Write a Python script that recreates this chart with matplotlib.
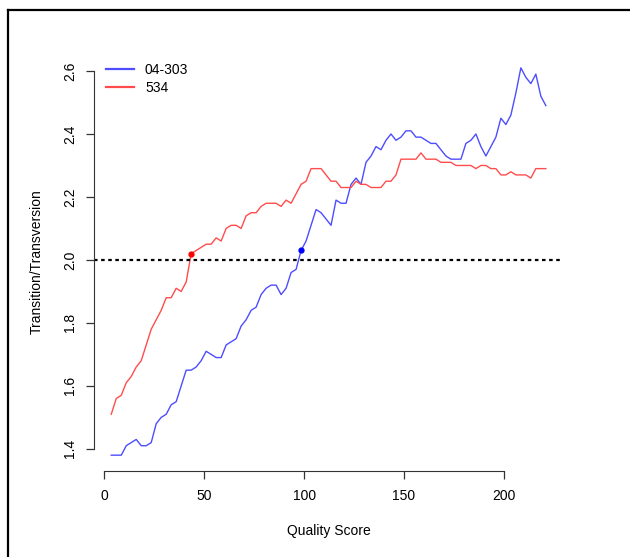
import matplotlib
matplotlib.use('Agg')
import matplotlib.pyplot as plt
from matplotlib.lines import Line2D

plt.rcParams['font.family'] = ['Liberation Sans', 'DejaVu Sans']

# quality score positions (shared by both samples)
quality = [3.5, 6, 8.5, 11, 13.5, 16, 18.5, 21, 23.5, 26,
           28.5, 31, 33.5, 36, 38.5, 41, 43.5, 46, 48.5, 51,
           53.5, 56, 58.5, 61, 63.5, 66, 68.5, 71, 73.5, 76,
           78.5, 81, 83.5, 86, 88.5, 91, 93.5, 96, 98.5, 101,
           103.5, 106, 108.5, 111, 113.5, 116, 118.5, 121, 123.5, 126,
           128.5, 131, 133.5, 136, 138.5, 141, 143.5, 146, 148.5, 151,
           153.5, 156, 158.5, 161, 163.5, 166, 168.5, 171, 173.5, 176,
           178.5, 181, 183.5, 186, 188.5, 191, 193.5, 196, 198.5, 201,
           203.5, 206, 208.5, 211, 213.5, 216, 218.5, 221]

# Ts/Tv ratio for sample 04-303
titv_04303 = [1.38, 1.38, 1.38, 1.41, 1.42, 1.43, 1.41, 1.41, 1.42, 1.48,
              1.50, 1.51, 1.54, 1.55, 1.60, 1.65, 1.65, 1.66, 1.68, 1.71,
              1.70, 1.69, 1.69, 1.73, 1.74, 1.75, 1.79, 1.81, 1.84, 1.85,
              1.89, 1.91, 1.92, 1.92, 1.89, 1.91, 1.96, 1.97, 2.03, 2.06,
              2.11, 2.16, 2.15, 2.13, 2.11, 2.19, 2.18, 2.18, 2.24, 2.26,
              2.24, 2.31, 2.33, 2.36, 2.35, 2.38, 2.40, 2.38, 2.39, 2.41,
              2.41, 2.39, 2.39, 2.38, 2.37, 2.37, 2.35, 2.33, 2.32, 2.32,
              2.32, 2.37, 2.38, 2.40, 2.36, 2.33, 2.36, 2.39, 2.45, 2.43,
              2.46, 2.53, 2.61, 2.58, 2.56, 2.59, 2.52, 2.49]

# Ts/Tv ratio for sample 534
titv_534 = [1.51, 1.56, 1.57, 1.61, 1.63, 1.66, 1.68, 1.73, 1.78, 1.81,
            1.84, 1.88, 1.88, 1.91, 1.90, 1.93, 2.02, 2.03, 2.04, 2.05,
            2.05, 2.07, 2.06, 2.10, 2.11, 2.11, 2.10, 2.14, 2.15, 2.15,
            2.17, 2.18, 2.18, 2.18, 2.17, 2.19, 2.18, 2.21, 2.24, 2.25,
            2.29, 2.29, 2.29, 2.27, 2.25, 2.25, 2.23, 2.23, 2.23, 2.25,
            2.24, 2.24, 2.23, 2.23, 2.23, 2.25, 2.25, 2.27, 2.32, 2.32,
            2.32, 2.32, 2.34, 2.32, 2.32, 2.32, 2.31, 2.31, 2.31, 2.30,
            2.30, 2.30, 2.30, 2.29, 2.30, 2.30, 2.29, 2.29, 2.27, 2.27,
            2.28, 2.27, 2.27, 2.27, 2.26, 2.29, 2.29, 2.29]

threshold = 2.0
# first point above the threshold for each sample
cross_04303 = next(i for i, v in enumerate(titv_04303) if v > threshold)
cross_534 = next(i for i, v in enumerate(titv_534) if v > threshold)

blue = '#4d4dff'
red = '#ff4d4d'

fig = plt.figure(figsize=(6.3, 5.57), dpi=100)
ax = fig.add_axes([0.149, 0.155, 0.745, 0.751])

ax.plot(quality, titv_04303, color=blue, lw=1.0, label='04-303')
ax.plot(quality, titv_534, color=red, lw=1.0, label='534')
ax.plot(quality[cross_04303], titv_04303[cross_04303], 'o', color='blue', ms=3.5)
ax.plot(quality[cross_534], titv_534[cross_534], 'o', color='red', ms=3.5)
ax.axhline(threshold, color='black', lw=1.6, linestyle=(0, (1.6, 1.6)))

ax.margins(x=0.04, y=0.04)

# R-like axes
for s in ['top', 'right']:
    ax.spines[s].set_visible(False)
ax.spines['left'].set_bounds(1.4, 2.6)
ax.spines['bottom'].set_bounds(0, 200)
ax.spines['left'].set_color('#333333')
ax.spines['bottom'].set_color('#333333')
ax.set_xticks([0, 50, 100, 150, 200])
ax.set_yticks([1.4, 1.6, 1.8, 2.0, 2.2, 2.4, 2.6])
ax.set_yticklabels(['1.4', '1.6', '1.8', '2.0', '2.2', '2.4', '2.6'])
ax.tick_params(length=6, width=0.9, color='#333333', labelsize=10, pad=7)
ax.tick_params(axis='y', labelrotation=90, pad=6)
for lab in ax.get_yticklabels():
    lab.set_va('center')

ax.set_xlabel('Quality Score', fontsize=10, labelpad=15)
ax.set_ylabel('Transition/Transversion', fontsize=10, labelpad=14)

handles = [Line2D([], [], color=blue, lw=1.6), Line2D([], [], color=red, lw=1.6)]
ax.legend(handles, ['04-303', '534'], loc='upper left', bbox_to_anchor=(0.026, 0.975),
          frameon=False, fontsize=10, handlelength=2.0, handletextpad=0.8,
          labelspacing=0.28, borderpad=0, borderaxespad=0)

# frame lines along top and left of the figure
fig.add_artist(Line2D([8 / 630, 1], [1 - 10 / 557, 1 - 10 / 557], color='black', lw=1.6,
                      transform=fig.transFigure))
fig.add_artist(Line2D([8 / 630, 8 / 630], [0, 1 - 10 / 557], color='black', lw=1.6,
                      transform=fig.transFigure))

fig.savefig('out.png', dpi=100)
